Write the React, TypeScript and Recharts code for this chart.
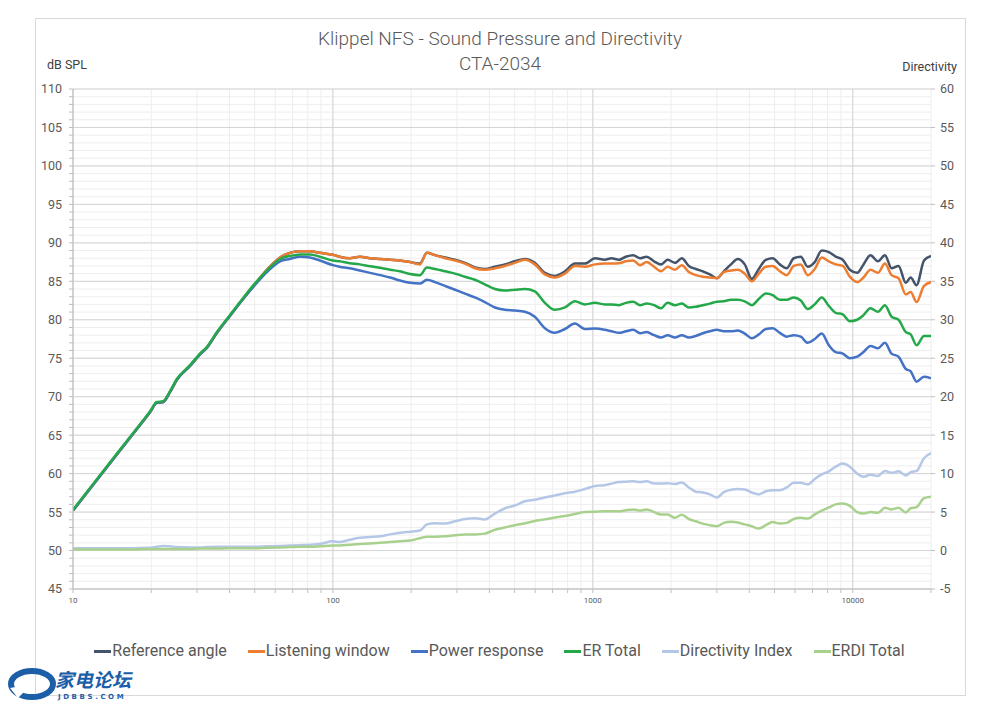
import React from 'react';
import { LineChart, Line, XAxis, YAxis, CartesianGrid } from 'recharts';

const freqHz = [
  10, 12.7, 16.6, 19.8, 21.0, 22.2, 23.6, 25.1, 28.2, 30.8, 32.8, 35.8, 39.1, 43.9, 49.2, 55.7, 62.6, 68.3, 74.7, 81.6, 89.1, 100,
  106, 116, 127, 139, 152, 166, 181, 198, 216, 230, 247, 270, 295, 322, 352, 384, 420, 459, 501, 548, 598, 654, 714, 781, 853, 932, 1020, 1110,
  1180, 1260, 1340, 1430, 1520, 1610, 1720, 1830, 1940, 2070, 2200, 2340, 2490, 2650, 2820, 3000, 3190, 3400, 3610, 3840, 4090, 4350, 4630, 4920, 5240, 5570, 5930, 6310, 6710, 7140, 7600, 8090, 8600, 9150, 9740, 10400, 11000, 11700, 12500, 13300, 14100, 15000,
  16000, 16700, 17600, 18800, 20000,
];

const referenceAngle = [
  55.2, 59.7, 64.7, 68.0, 69.2, 69.3, 70.6, 72.2, 74.0, 75.5, 76.4, 78.3, 80.0, 82.2, 84.3, 86.5, 88.1, 88.7, 88.9, 88.9, 88.7, 88.45,
  88.2, 88.0, 88.2, 88.0, 87.9, 87.8, 87.7, 87.5, 87.3, 88.7, 88.4, 88.1, 87.8, 87.4, 86.8, 86.6, 86.9, 87.2, 87.6, 87.9, 87.4, 86.1, 85.7, 86.3, 87.3, 87.3, 88.0, 87.8,
  88.0, 87.8, 88.2, 88.4, 88.0, 88.2, 87.6, 87.2, 87.8, 87.4, 88.0, 87.0, 86.6, 86.3, 85.9, 85.4, 86.3, 87.2, 87.9, 87.2, 85.3, 86.6, 87.8, 88.0, 87.2, 86.7, 88.0, 88.2, 86.9, 87.5, 89.0, 88.8, 88.2, 87.8, 86.5, 86.1, 87.2, 88.4, 87.6, 88.4, 86.7, 87.0,
  84.8, 85.5, 84.5, 87.7, 88.3,
];

const listeningWindow = [
  55.2, 59.7, 64.7, 68.0, 69.2, 69.3, 70.6, 72.2, 74.0, 75.5, 76.4, 78.3, 80.0, 82.2, 84.3, 86.5, 88.1, 88.7, 88.9, 88.9, 88.7, 88.45,
  88.2, 88.0, 88.2, 88.0, 87.9, 87.8, 87.7, 87.5, 87.2, 88.7, 88.4, 88.0, 87.7, 87.3, 86.7, 86.5, 86.7, 87.0, 87.4, 87.8, 87.2, 85.9, 85.5, 86.0, 87.0, 86.9, 87.2, 87.3,
  87.3, 87.35, 87.6, 87.7, 87.1, 87.5, 86.9, 86.3, 86.9, 86.5, 87.1, 86.2, 85.8, 85.6, 85.5, 85.4, 86.2, 86.4, 86.5, 86.0, 85.0, 86.0, 86.9, 87.0, 86.3, 85.8, 87.0, 87.2, 85.8, 86.6, 88.1, 87.6, 87.2, 87.0, 85.6, 84.9, 85.5, 86.5, 86.1, 87.3, 85.8, 85.4,
  83.3, 83.6, 82.3, 84.4, 84.9,
];

const powerResponse = [
  55.2, 59.7, 64.7, 68.0, 69.2, 69.3, 70.6, 72.2, 74.0, 75.5, 76.4, 78.3, 80.0, 82.2, 84.2, 86.2, 87.6, 87.9, 88.2, 88.1, 87.7, 87.1,
  86.9, 86.7, 86.4, 86.1, 85.8, 85.5, 85.1, 84.8, 84.7, 85.2, 84.9, 84.4, 83.9, 83.4, 82.9, 82.3, 81.6, 81.3, 81.2, 81.05, 80.4, 78.9, 78.3, 78.8, 79.5, 78.8, 78.85, 78.7,
  78.5, 78.3, 78.5, 78.7, 78.25, 78.4, 78.0, 77.7, 78.0, 77.7, 78.0, 77.7, 77.9, 78.25, 78.5, 78.7, 78.5, 78.5, 78.6, 78.2, 77.6, 78.1, 78.8, 78.9, 78.3, 77.8, 78.0, 77.8, 77.0, 77.5, 78.2, 76.7, 75.8, 75.6, 75.0, 75.2, 75.8, 76.6, 76.3, 77.0, 75.6, 75.2,
  73.6, 73.3, 71.95, 72.6, 72.4,
];

const erTotal = [
  55.3, 59.8, 64.8, 68.1, 69.3, 69.4, 70.7, 72.3, 74.1, 75.6, 76.5, 78.4, 80.1, 82.3, 84.4, 86.4, 87.9, 88.3, 88.5, 88.5, 88.2, 87.7,
  87.6, 87.35, 87.2, 86.95, 86.75, 86.5, 86.3, 85.95, 85.8, 86.8, 86.6, 86.3, 86.0, 85.6, 85.2, 84.6, 84.0, 83.8, 83.9, 84.0, 83.7, 82.2, 81.3, 81.6, 82.4, 82.0, 82.2, 82.0,
  82.0, 81.9, 82.2, 82.35, 81.9, 82.1, 81.9, 81.5, 82.2, 81.9, 82.1, 81.6, 81.7, 81.9, 82.1, 82.35, 82.4, 82.6, 82.6, 82.4, 81.9, 82.7, 83.4, 83.2, 82.6, 82.6, 82.9, 82.5, 81.4, 82.0, 82.9, 81.8, 80.9, 80.7, 79.8, 80.0, 80.6, 81.5, 81.05, 81.9, 80.4, 80.0,
  78.4, 78.1, 76.7, 77.9, 77.9,
];

const directivityIndex = [
  0.3, 0.3, 0.3, 0.35, 0.5, 0.6, 0.55, 0.45, 0.4, 0.4, 0.45, 0.5, 0.5, 0.5, 0.5, 0.55, 0.6, 0.65, 0.7, 0.75, 0.85, 1.2,
  1.1, 1.4, 1.65, 1.75, 1.85, 2.1, 2.3, 2.45, 2.6, 3.4, 3.55, 3.5, 3.8, 4.1, 4.2, 4.05, 4.8, 5.5, 5.85, 6.4, 6.6, 6.9, 7.15, 7.45, 7.65, 8.0, 8.4, 8.5,
  8.7, 8.9, 8.95, 9.0, 8.9, 9.0, 8.7, 8.7, 8.75, 8.65, 8.85, 8.2, 7.65, 7.55, 7.3, 6.9, 7.6, 7.9, 8.0, 7.95, 7.55, 7.3, 7.7, 7.85, 7.85, 8.2, 8.8, 8.8, 8.6, 9.3, 9.9, 10.3, 10.9, 11.3, 10.9, 10.0, 9.6, 9.85, 9.7, 10.35, 10.1, 10.3,
  9.75, 10.2, 10.35, 12.0, 12.65,
];

const erdiTotal = [
  0.15, 0.15, 0.15, 0.2, 0.2, 0.2, 0.2, 0.2, 0.2, 0.25, 0.25, 0.25, 0.3, 0.3, 0.3, 0.35, 0.4, 0.45, 0.5, 0.5, 0.55, 0.65,
  0.65, 0.75, 0.85, 0.9, 1.0, 1.1, 1.2, 1.3, 1.6, 1.8, 1.8, 1.85, 2.0, 2.1, 2.1, 2.2, 2.7, 3.0, 3.3, 3.55, 3.85, 4.05, 4.3, 4.5, 4.75, 5.0, 5.05, 5.1,
  5.1, 5.1, 5.25, 5.35, 5.2, 5.35, 5.0, 4.7, 4.7, 4.25, 4.65, 4.1, 3.8, 3.5, 3.3, 3.15, 3.6, 3.75, 3.65, 3.4, 3.15, 2.85, 3.3, 3.7, 3.5, 3.6, 4.1, 4.25, 4.15, 4.7, 5.2, 5.6, 6.0, 6.1, 5.8, 5.0, 4.8, 5.0, 4.9, 5.55, 5.35, 5.55,
  4.95, 5.5, 5.65, 6.8, 7.0,
];

const xMajorTicks = [10, 100, 1000, 10000];
const xAllTicks = [
  10, 20, 30, 40, 50, 60, 70, 80, 90,
  100, 200, 300, 400, 500, 600, 700, 800, 900,
  1000, 2000, 3000, 4000, 5000, 6000, 7000, 8000, 9000,
  10000, 20000,
];
const splTicksMajor = [45, 50, 55, 60, 65, 70, 75, 80, 85, 90, 95, 100, 105, 110];
const splTicksMinor = Array.from({ length: 66 }, (_, i) => 45 + i);
const dirTicks = [-5, 0, 5, 10, 15, 20, 25, 30, 35, 40, 45, 50, 55, 60];

const seriesDefs = [
  { key: 'ref', name: 'Reference angle', color: '#44546a', axis: 'left' },
  { key: 'lw', name: 'Listening window', color: '#ed7d31', axis: 'left' },
  { key: 'pr', name: 'Power response', color: '#4472c4', axis: 'left' },
  { key: 'er', name: 'ER Total', color: '#25a84a', axis: 'left' },
  { key: 'di', name: 'Directivity Index', color: '#b4c7e7', axis: 'right' },
  { key: 'erdi', name: 'ERDI Total', color: '#a9d18e', axis: 'right' },
];

const data = freqHz.map((f, i) => ({
  f,
  ref: referenceAngle[i],
  lw: listeningWindow[i],
  pr: powerResponse[i],
  er: erTotal[i],
  di: directivityIndex[i],
  erdi: erdiTotal[i],
}));

const FONT = 'Roboto, "Open Sans", sans-serif';
const TEXT = '#595959';

export default function App() {
  return (
    <div style={{ position: 'absolute', left: 0, top: 0, width: 999, height: 712, background: '#fff', overflow: 'hidden' }}>
      <div style={{ position: 'absolute', left: 35, top: 18, width: 929, height: 676, border: '1px solid #d9d9d9' }} />
      <div style={{ position: 'absolute', left: 35, top: 26, width: 930, textAlign: 'center', fontFamily: FONT, fontWeight: 300, fontSize: 19, color: TEXT, lineHeight: '25px' }}>
        <div>Klippel NFS - Sound Pressure and Directivity</div>
        <div>CTA-2034</div>
      </div>
      <div style={{ position: 'absolute', left: 47, top: 57, fontFamily: FONT, fontSize: 12.5, color: '#404040' }}>dB SPL</div>
      <div style={{ position: 'absolute', right: 42, top: 59, fontFamily: FONT, fontSize: 12.5, color: '#404040' }}>Directivity</div>
      <div style={{ position: 'absolute', left: 0, top: 0 }}>
        <LineChart width={999} height={712} data={data} margin={{ top: 89, right: 28, bottom: 93, left: 33 }}>
          <CartesianGrid
            xAxisId="x"
            yAxisId="left"
            stroke="#eeeeee"
            strokeWidth={1}
            horizontalValues={splTicksMinor}
            verticalValues={xAllTicks}
          />
          <CartesianGrid
            xAxisId="x"
            yAxisId="left"
            stroke="#d4d4d4"
            strokeWidth={1}
            horizontalValues={splTicksMajor}
            verticalValues={xMajorTicks}
          />
          <XAxis
            xAxisId="x"
            dataKey="f"
            type="number"
            scale="log"
            domain={[10, 20000]}
            allowDataOverflow
            ticks={xAllTicks}
            tickFormatter={(v: number) => (xMajorTicks.includes(v) ? String(v) : '')}
            interval={0}
            tick={{ fontSize: 8, fill: TEXT, fontFamily: FONT }}
            tickSize={4}
            tickMargin={4}
            stroke="#bfbfbf"
            height={30}
          />
          <YAxis
            yAxisId="left"
            domain={[45, 110]}
            ticks={splTicksMinor}
            interval={0}
            tickFormatter={(v: number) => (v % 5 === 0 ? String(v) : '')}
            tick={{ fontSize: 12.5, fill: TEXT, fontFamily: FONT }}
            tickSize={4}
            tickMargin={7}
            stroke="#bfbfbf"
            width={40}
          />
          <YAxis
            yAxisId="right"
            orientation="right"
            domain={[-5, 60]}
            ticks={dirTicks}
            interval={0}
            tick={{ fontSize: 12.5, fill: TEXT, fontFamily: FONT }}
            tickSize={4}
            tickMargin={5}
            axisLine={false}
            stroke="#bfbfbf"
            width={40}
          />
          {seriesDefs.map((s) => (
            <Line
              key={s.key}
              xAxisId="x"
              yAxisId={s.axis}
              dataKey={s.key}
              name={s.name}
              type="monotone"
              stroke={s.color}
              strokeWidth={2.5}
              dot={false}
              isAnimationActive={false}
            />
          ))}
        </LineChart>
      </div>
      <div style={{ position: 'absolute', left: 0, top: 641, width: 999, display: 'flex', justifyContent: 'center', gap: 21, fontFamily: FONT, fontSize: 16, color: TEXT, lineHeight: '20px' }}>
        {seriesDefs.map((s) => (
          <div key={s.key} style={{ display: 'flex', alignItems: 'center' }}>
            <span style={{ display: 'inline-block', width: 17, height: 3, background: s.color, marginRight: 1 }} />
            <span>{s.name}</span>
          </div>
        ))}
      </div>
      <svg style={{ position: 'absolute', left: 8, top: 668 }} width={52} height={34}>
        <ellipse cx={24} cy={16} rx={21} ry={13} fill="none" stroke="#1d5ea8" strokeWidth={6} />
        <path d="M2 20 L24 16 L10 30 Z" fill="#fff" />
      </svg>
      <div style={{ position: 'absolute', left: 55, top: 668, fontFamily: '"Noto Sans CJK SC", sans-serif', fontWeight: 700, fontStyle: 'italic', fontSize: 19, color: '#1d5ea8', lineHeight: '21px' }}>家电论坛</div>
      <div style={{ position: 'absolute', left: 58, top: 693, fontFamily: 'DejaVu Sans, sans-serif', fontWeight: 700, fontSize: 7, lineHeight: '8px', letterSpacing: 2.6, color: '#1d5ea8' }}>JDBBS.COM</div>
    </div>
  );
}
